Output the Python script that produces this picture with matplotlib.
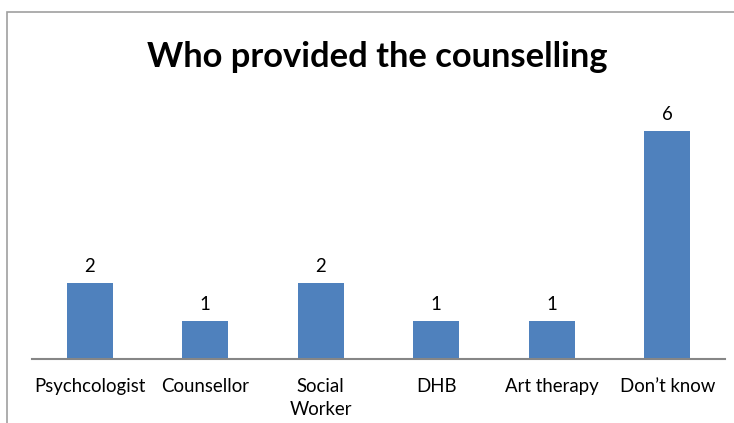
import matplotlib.pyplot as plt
from matplotlib.patches import Rectangle

providers = ['Psychcologist', 'Counsellor', 'Social\nWorker', 'DHB', 'Art therapy', 'Don\u2019t know']
counts = [2, 1, 2, 1, 1, 6]

plt.rcParams['font.family'] = ['Lato', 'DejaVu Sans']

W, H = 734, 423
fig = plt.figure(figsize=(W / 100, H / 100), dpi=100)

# outer chart frame, running off the right and bottom edges
fig.patches.append(Rectangle((7 / W, -0.1), 1.2, 1 - 12 / H + 0.1,
                             transform=fig.transFigure, fill=False,
                             edgecolor='#a0a0a0', linewidth=1.2))

ax_left, ax_right = 32 / W, 725 / W
ax_bottom = 1 - 359 / H
ax_height = 7 * 38 / H
ax = fig.add_axes([ax_left, ax_bottom, ax_right - ax_left, ax_height])

x = range(len(providers))
bars = ax.bar(x, counts, width=0.4, color='#4F81BD')
ax.set_xlim(-0.5, len(providers) - 0.5)
ax.set_ylim(0, 7)

for b, v in zip(bars, counts):
    ax.text(b.get_x() + b.get_width() / 2, v + 0.2, str(v),
            ha='center', va='bottom', fontsize=13.4)

ax.set_xticks(list(x))
ax.set_xticklabels(providers, fontsize=13.4, linespacing=1.4)
ax.tick_params(axis='x', length=0, pad=14)
ax.set_yticks([])
for s in ['left', 'right', 'top']:
    ax.spines[s].set_visible(False)
ax.spines['bottom'].set_color('#868686')
ax.spines['bottom'].set_linewidth(1.5)

fig.text(377 / W, 1 - 57 / H, 'Who provided the counselling',
         ha='center', va='center', fontsize=24.8, fontweight='bold')

fig.savefig('out.png', dpi=100)
